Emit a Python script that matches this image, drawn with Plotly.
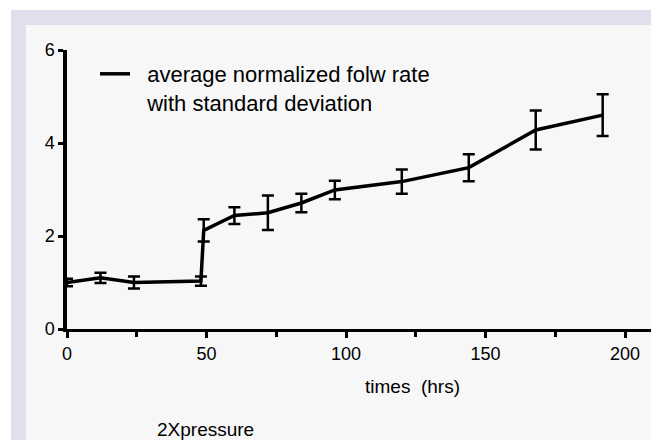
import plotly.graph_objects as go

# data
times = [0, 12, 24, 48, 49, 60, 72, 84, 96, 120, 144, 168, 192]
flow = [1.0, 1.1, 1.0, 1.03, 2.12, 2.44, 2.5, 2.71, 2.99, 3.17, 3.47, 4.28, 4.6]
sd = [0.08, 0.11, 0.13, 0.1, 0.24, 0.18, 0.37, 0.2, 0.2, 0.26, 0.29, 0.42, 0.45]
x_ticks = [0, 50, 100, 150, 200]
y_ticks = [0, 2, 4, 6]
legend_name = "average normalized folw rate<br>with standard deviation"
x_title = "times&nbsp;&nbsp;(hrs)"
note = "2Xpressure"

OFF = 8                      # page body margin
WIN_W, WIN_H = 659, 440
W, H = WIN_W - OFF, WIN_H - OFF
L, R, T, B = 67, 657, 50, 329  # plot area in window pixels


def px(x):
    return (x - L) / (R - L)


def py(y):
    return (B - y) / (B - T)


FONT = "Liberation Sans, Arial, Helvetica, sans-serif"

fig = go.Figure()
fig.add_trace(go.Scatter(
    x=times, y=flow, mode="lines",
    name="&nbsp;&nbsp;" + legend_name.replace("<br>", "<br>&nbsp;&nbsp;"),
    line=dict(color="black", width=3.5),
    error_y=dict(type="data", array=sd, visible=True, color="black", thickness=2.5, width=6),
    cliponaxis=False,
))

fig.update_layout(
    width=W, height=H,
    margin=dict(l=L - OFF, r=WIN_W - R, t=T - OFF, b=WIN_H - B, pad=0),
    paper_bgcolor="white",
    plot_bgcolor="rgba(0,0,0,0)",
    font=dict(family=FONT, size=18, color="black"),
    showlegend=True,
    legend=dict(x=px(95), y=py(53), xanchor="left", yanchor="top", valign="top",
                bgcolor="rgba(0,0,0,0)", font=dict(size=22), itemwidth=30),
    xaxis=dict(range=[0, (R - L) / 2.79], tickvals=x_ticks, ticks="outside", ticklen=6,
               tickwidth=3, tickcolor="black", showline=True, linecolor="black", linewidth=3,
               showgrid=False, zeroline=False, fixedrange=True,
               minor=dict(dtick=25, ticks="outside", ticklen=5, tickwidth=3, tickcolor="black", showgrid=False),
               tickfont=dict(size=18), automargin=False),
    yaxis=dict(range=[0, 6], tickvals=y_ticks, ticks="outside", ticklen=5, tickwidth=3,
               tickcolor="black", showline=True, linecolor="black", linewidth=3.5,
               showgrid=False, zeroline=False, tickfont=dict(size=18), automargin=False),
    shapes=[
        dict(type="rect", xref="paper", yref="paper", x0=px(11), x1=px(660), y0=py(441), y1=py(10),
             fillcolor="#dfdfed", line=dict(width=0), layer="below"),
        dict(type="rect", xref="paper", yref="paper", x0=px(26), x1=px(657.7), y0=py(441), y1=py(25),
             fillcolor="#f7f7f7", line=dict(width=0), layer="below"),
    ],
    annotations=[
        dict(text=x_title, xref="paper", yref="paper", x=px(412.5), y=py(386), xanchor="center",
             yanchor="middle", showarrow=False, font=dict(size=19)),
        dict(text=note, xref="paper", yref="paper", x=px(155), y=py(429), xanchor="left",
             yanchor="middle", showarrow=False, font=dict(size=19)),
    ],
)

fig.write_html("out.html")
